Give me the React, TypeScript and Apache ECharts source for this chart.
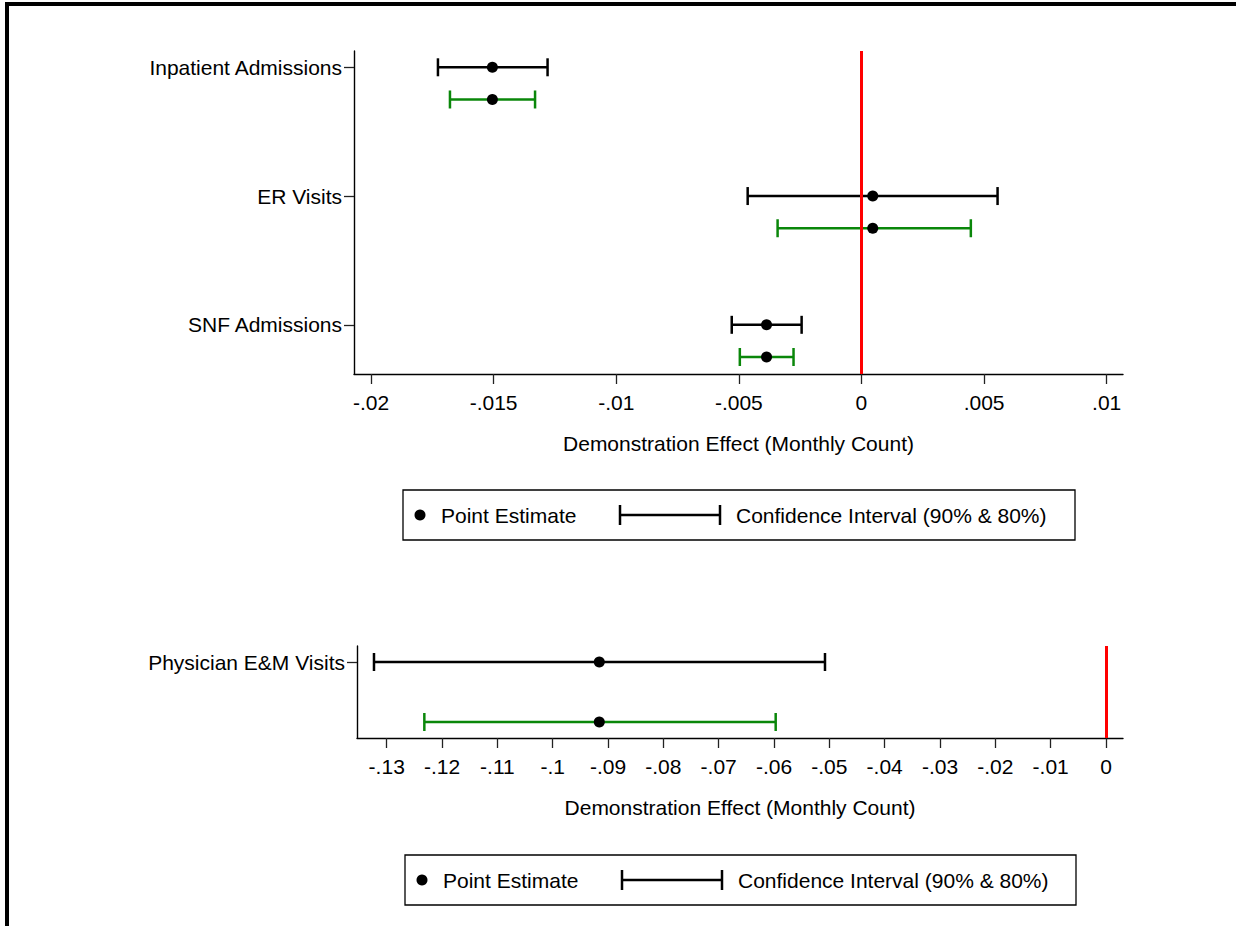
import React, { useEffect, useRef } from "react";
import * as echarts from "echarts";

// ---------- Data ----------
const topCategories = ["Inpatient Admissions", "ER Visits", "SNF Admissions"];
const topPoint = [-0.01505, 0.00046, -0.00387];
const topCI90Low = [-0.01727, -0.00464, -0.00529];
const topCI90High = [-0.0128, 0.00555, -0.00244];
const topCI80Low = [-0.01678, -0.00342, -0.00496];
const topCI80High = [-0.01331, 0.00446, -0.00277];
const topTicks = [-0.02, -0.015, -0.01, -0.005, 0, 0.005, 0.01];

const bottomCategories = ["Physician E&M Visits"];
const bottomPoint = [-0.09158];
const bottomCI90Low = [-0.1323];
const bottomCI90High = [-0.05079];
const bottomCI80Low = [-0.1232];
const bottomCI80High = [-0.0597];
const bottomTicks = [
  -0.13, -0.12, -0.11, -0.1, -0.09, -0.08, -0.07, -0.06, -0.05, -0.04, -0.03,
  -0.02, -0.01, 0,
];

const xAxisTitle = "Demonstration Effect (Monthly Count)";
const legendPointLabel = "Point Estimate";
const legendCILabel = "Confidence Interval (90% & 80%)";

// ---------- Styling ----------
const FONT = "'Liberation Sans', Arial, Helvetica, sans-serif";
const FS = 21;
const GREEN = "#0a870a";
const BLACK = "#000000";

const fmtTick = (v: number) => {
  if (v === 0) return "0";
  return String(v).replace("0.", ".");
};

function errorBarRender(color: string) {
  return (params: any, api: any) => {
    const lo = api.coord([api.value(0), api.value(2)]);
    const hi = api.coord([api.value(1), api.value(2)]);
    const h = 9;
    const style = { stroke: color, lineWidth: 2.5 };
    return {
      type: "group",
      children: [
        { type: "line", shape: { x1: lo[0], y1: lo[1], x2: hi[0], y2: hi[1] }, style },
        { type: "line", shape: { x1: lo[0], y1: lo[1] - h, x2: lo[0], y2: lo[1] + h }, style },
        { type: "line", shape: { x1: hi[0], y1: hi[1] - h, x2: hi[0], y2: hi[1] + h }, style },
      ],
    };
  };
}

function legendGraphic(x: number, y: number, w: number, h: number) {
  const cy = y + h / 2;
  const ts = { fill: BLACK, font: `${FS}px ${FONT}`, verticalAlign: "middle", align: "left" };
  const ls = { stroke: BLACK, lineWidth: 2.5 };
  const ciL = x + 217;
  const ciR = x + 317;
  return {
    type: "group",
    children: [
      { type: "rect", shape: { x, y, width: w, height: h }, style: { fill: "#fff", stroke: BLACK, lineWidth: 1.3 } },
      { type: "circle", shape: { cx: x + 17, cy, r: 5.5 }, style: { fill: BLACK } },
      { type: "text", x: x + 38, y: cy, style: { ...ts, text: legendPointLabel } },
      { type: "line", shape: { x1: ciL, y1: cy, x2: ciR, y2: cy }, style: ls },
      { type: "line", shape: { x1: ciL, y1: cy - 10, x2: ciL, y2: cy + 10 }, style: ls },
      { type: "line", shape: { x1: ciR, y1: cy - 10, x2: ciR, y2: cy + 10 }, style: ls },
      { type: "text", x: ciR + 16, y: cy, style: { ...ts, text: legendCILabel } },
    ],
  };
}

const axisCommon = {
  axisLine: { show: true, onZero: false, lineStyle: { color: BLACK, width: 1.4 } },
  axisTick: { show: true, length: 10, lineStyle: { color: "#222", width: 1.3 } },
  splitLine: { show: false },
};

export default function App() {
  const ref = useRef<HTMLDivElement>(null);

  useEffect(() => {
    if (!ref.current) return;
    const chart = echarts.init(ref.current, undefined, { renderer: "svg" });

    const topCI90 = topCategories.map((_, i) => [topCI90Low[i], topCI90High[i], i]);
    const topCI80 = topCategories.map((_, i) => [topCI80Low[i], topCI80High[i], i + 0.25]);
    const topPts: number[][] = [];
    topCategories.forEach((_, i) => {
      topPts.push([topPoint[i], i]);
      topPts.push([topPoint[i], i + 0.25]);
    });

    const botCI90 = bottomCategories.map((_, i) => [bottomCI90Low[i], bottomCI90High[i], i]);
    const botCI80 = bottomCategories.map((_, i) => [bottomCI80Low[i], bottomCI80High[i], i + 1]);
    const botPts: number[][] = [];
    bottomCategories.forEach((_, i) => {
      botPts.push([bottomPoint[i], i]);
      botPts.push([bottomPoint[i], i + 1]);
    });

    const redLine = {
      silent: true,
      symbol: ["none", "none"],
      label: { show: false },
      lineStyle: { color: "#ff0000", width: 3, type: "solid" },
      data: [{ xAxis: 0 }],
    };

    const option: any = {
      animation: false,
      backgroundColor: "#ffffff",
      textStyle: { fontFamily: FONT },
      grid: [
        { left: 354, top: 51, width: 769, height: 323, containLabel: false },
        { left: 357, top: 646, width: 766, height: 92, containLabel: false },
      ],
      xAxis: [
        {
          ...axisCommon,
          type: "value",
          gridIndex: 0,
          min: -0.020693,
          max: 0.010665,
          axisTick: { ...axisCommon.axisTick, customValues: topTicks },
          axisLabel: {
            customValues: topTicks,
            formatter: fmtTick,
            color: BLACK,
            fontSize: FS,
            fontFamily: FONT,
            margin: 18,
          },
          name: xAxisTitle,
          nameLocation: "middle",
          nameGap: 59,
          nameTextStyle: { color: BLACK, fontSize: FS, fontFamily: FONT },
        },
        {
          ...axisCommon,
          type: "value",
          gridIndex: 1,
          min: -0.13537,
          max: 0.00307,
          axisTick: { ...axisCommon.axisTick, customValues: bottomTicks },
          axisLabel: {
            customValues: bottomTicks,
            formatter: fmtTick,
            color: BLACK,
            fontSize: FS,
            fontFamily: FONT,
            margin: 18,
          },
          name: xAxisTitle,
          nameLocation: "middle",
          nameGap: 59,
          nameTextStyle: { color: BLACK, fontSize: FS, fontFamily: FONT },
        },
      ],
      yAxis: [
        {
          ...axisCommon,
          type: "value",
          gridIndex: 0,
          inverse: true,
          min: -0.1265,
          max: 2.382,
          axisTick: { ...axisCommon.axisTick, customValues: [0, 1, 2] },
          axisLabel: {
            customValues: [0, 1, 2],
            formatter: (v: number) => topCategories[Math.round(v)] ?? "",
            color: BLACK,
            fontSize: FS,
            fontFamily: FONT,
            margin: 12,
          },
        },
        {
          ...axisCommon,
          type: "value",
          gridIndex: 1,
          inverse: true,
          min: -0.267,
          max: 1.267,
          axisTick: { ...axisCommon.axisTick, customValues: [0] },
          axisLabel: {
            customValues: [0],
            formatter: (v: number) => bottomCategories[Math.round(v)] ?? "",
            color: BLACK,
            fontSize: FS,
            fontFamily: FONT,
            margin: 12,
          },
        },
      ],
      series: [
        {
          type: "custom",
          xAxisIndex: 0,
          yAxisIndex: 0,
          renderItem: errorBarRender(BLACK),
          encode: { x: [0, 1], y: 2 },
          data: topCI90,
          markLine: redLine,
        },
        {
          type: "custom",
          xAxisIndex: 0,
          yAxisIndex: 0,
          renderItem: errorBarRender(GREEN),
          encode: { x: [0, 1], y: 2 },
          data: topCI80,
        },
        {
          type: "scatter",
          xAxisIndex: 0,
          yAxisIndex: 0,
          symbolSize: 11,
          itemStyle: { color: BLACK, opacity: 1 },
          data: topPts,
          z: 5,
        },
        {
          type: "custom",
          xAxisIndex: 1,
          yAxisIndex: 1,
          renderItem: errorBarRender(BLACK),
          encode: { x: [0, 1], y: 2 },
          data: botCI90,
          markLine: redLine,
        },
        {
          type: "custom",
          xAxisIndex: 1,
          yAxisIndex: 1,
          renderItem: errorBarRender(GREEN),
          encode: { x: [0, 1], y: 2 },
          data: botCI80,
        },
        {
          type: "scatter",
          xAxisIndex: 1,
          yAxisIndex: 1,
          symbolSize: 11,
          itemStyle: { color: BLACK, opacity: 1 },
          data: botPts,
          z: 5,
        },
      ],
      graphic: [
        { type: "rect", shape: { x: 5, y: 2, width: 1231, height: 4 }, style: { fill: BLACK } },
        { type: "rect", shape: { x: 5, y: 2, width: 4, height: 924 }, style: { fill: BLACK } },
        legendGraphic(403, 490, 672, 50),
        legendGraphic(405, 855, 671, 50),
      ],
    };

    chart.setOption(option);
    return () => chart.dispose();
  }, []);

  return (
    <div
      ref={ref}
      style={{ position: "fixed", left: 0, top: 0, width: 1236, height: 926, background: "#fff" }}
    />
  );
}
